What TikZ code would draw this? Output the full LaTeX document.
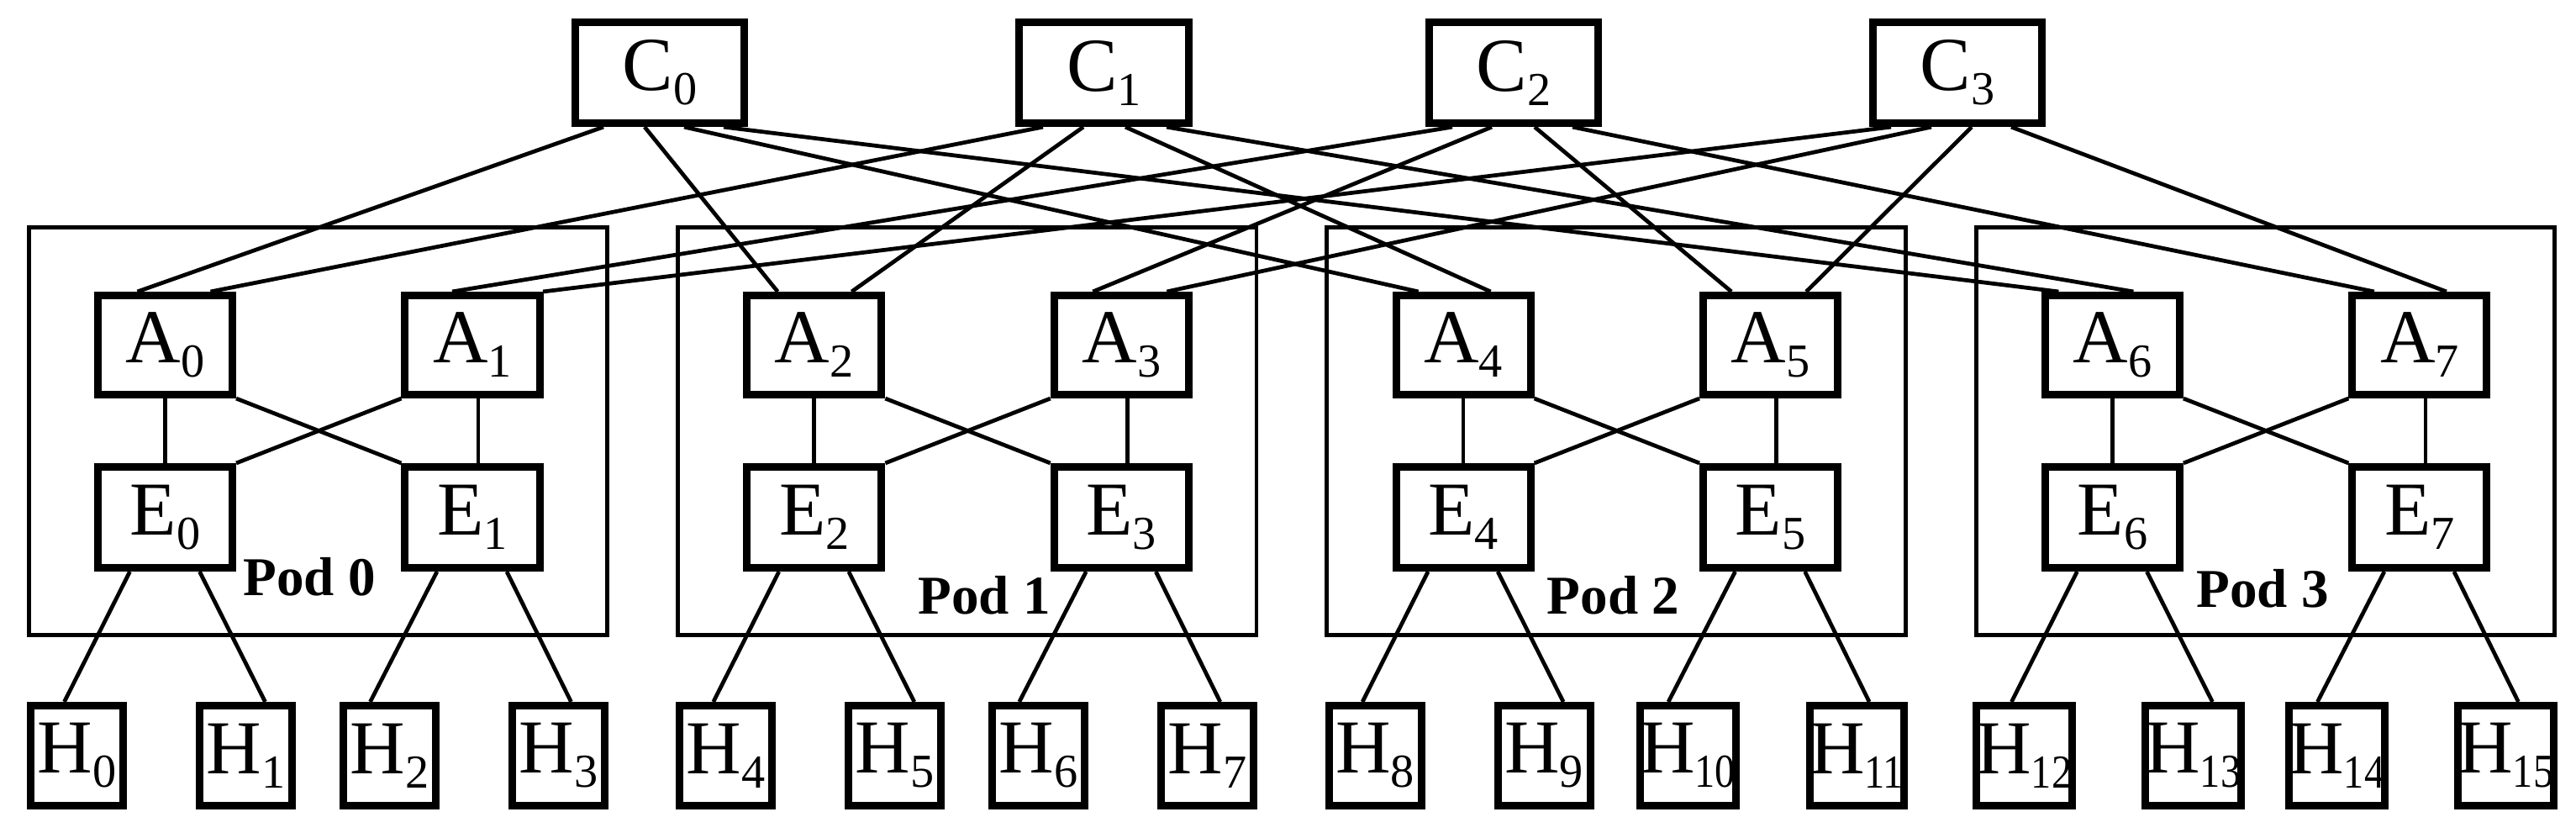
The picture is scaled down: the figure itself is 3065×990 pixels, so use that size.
\documentclass[tikz,border=0pt]{standalone}
\usepackage{fontspec}
\setmainfont{Liberation Serif}
\usetikzlibrary{calc}
\newcommand\swlab[2]{#1\raisebox{-4.84pt}{\fontsize{16pt}{16pt}\selectfont #2}}
\newcommand\swlabw[2]{#1\raisebox{-4.84pt}{\scalebox{0.86}[1]{\fontsize{16pt}{16pt}\selectfont #2}}}
\tikzset{
  sw/.style={draw, line width=2.56pt, fill=white, inner sep=0pt,
    font=\fontsize{25.8pt}{30pt}\selectfont},
  cbox/.style={sw, minimum width=2.01cm, minimum height=1.20cm},
  abox/.style={sw, minimum width=1.60cm, minimum height=1.18cm},
  ebox/.style={sw, minimum width=1.60cm, minimum height=1.20cm},
  hbox/.style={sw, minimum width=1.10cm, minimum height=1.19cm},
  podbox/.style={draw, line width=1.4pt, inner sep=0pt, minimum width=6.88cm, minimum height=4.85cm},
  podlab/.style={font=\fontsize{18.5pt}{22pt}\selectfont\bfseries, inner sep=0pt},
  link/.style={line width=1.35pt},
}
\begin{document}
\begin{tikzpicture}[x=0.01cm, y=-0.01cm]
\useasboundingbox (0,0) rectangle (3065,990);
% pods
\foreach \p/\lx/\ly in {0/336/686, 1/367/708, 2/343/708, 3/343/700}{
  \pgfmathsetmacro{\P}{32+772.3*\p}
  \node[podbox] (pod\p) at (\P+346.5,513) {};
  \node[podlab] (podlab\p) at (\P+\lx,\ly) {Pod \p};
}
% core
\foreach \i/\x in {0/785, 1/1313.5, 2/1801, 3/2329}{
  \node[cbox] (C\i) at (\x,86.5) {\swlab{C}{\i}};
}
% aggregation, edge, hosts
\foreach \p in {0,1,2,3}{
  \pgfmathsetmacro{\P}{32+772.3*\p}
  \pgfmathtruncatemacro{\aa}{2*\p}
  \pgfmathtruncatemacro{\ab}{2*\p+1}
  \node[abox] (A\aa) at (\P+164.5,410.5) {\swlab{A}{\aa}};
  \node[abox] (A\ab) at (\P+530,410.5) {\swlab{A}{\ab}};
  \node[ebox] (E\aa) at (\P+164.5,615.5) {\swlab{E}{\aa}};
  \node[ebox] (E\ab) at (\P+530,615.5) {\swlab{E}{\ab}};
  \foreach \k/\hx in {0/59.5, 1/260.5, 2/431.5, 3/632.5}{
    \pgfmathtruncatemacro{\h}{4*\p+\k}
    \ifnum\h<10
      \node[hbox] (H\h) at (\P+\hx,899) {\swlab{H}{\h}};
    \else
      \node[hbox] (H\h) at (\P+\hx,899) {\swlabw{H}{\h}};
    \fi
  }
}
% core to aggregation links
\foreach \a/\c/\co/\ao in {0/0/-67/-33, 2/0/-18/-43.5, 4/0/29/-53.5, 6/0/76/-64,
  0/1/-72.5/54, 2/1/-24.5/44.5, 4/1/25.5/32.5, 6/1/74.5/25,
  1/2/-73/-24, 3/2/-26/-34, 5/2/25/-46.5, 7/2/70/-54,
  1/3/-79/84, 3/3/-31/54, 5/3/17/42.5, 7/3/64/32}{
  \draw[link] ($(C\c.south)+(\co,0)$) -- ($(A\a.north)+(\ao,0)$);
}
% aggregation to edge, edge to hosts
\foreach \p in {0,1,2,3}{
  \pgfmathtruncatemacro{\aa}{2*\p}
  \pgfmathtruncatemacro{\ab}{2*\p+1}
  \pgfmathtruncatemacro{\ha}{4*\p}
  \pgfmathtruncatemacro{\hb}{4*\p+1}
  \pgfmathtruncatemacro{\hc}{4*\p+2}
  \pgfmathtruncatemacro{\hd}{4*\p+3}
  \draw[link] (A\aa.south) -- (E\aa.north);
  \draw[link] ($(A\ab.south)+(7,0)$) -- ($(E\ab.north)+(7,0)$);
  \draw[link] (A\aa.south east) -- (E\ab.north west);
  \draw[link] (A\ab.south west) -- (E\aa.north east);
  \draw[link] ($(E\aa.south)+(-42,0)$) -- ($(H\ha.north)+(-15,0)$);
  \draw[link] ($(E\aa.south)+(41,0)$) -- ($(H\hb.north)+(23,0)$);
  \draw[link] ($(E\ab.south)+(-42,0)$) -- ($(H\hc.north)+(-23,0)$);
  \draw[link] ($(E\ab.south)+(41,0)$) -- ($(H\hd.north)+(15,0)$);
}
\end{tikzpicture}
\end{document}
